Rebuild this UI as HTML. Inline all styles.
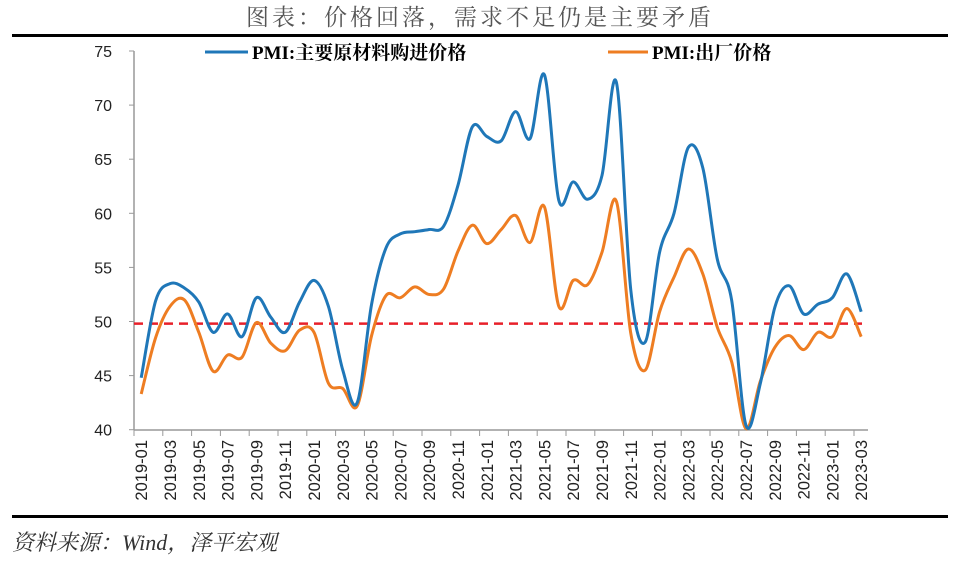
<!DOCTYPE html>
<html><head><meta charset="utf-8"><style>
body{margin:0;background:#fff;width:960px;height:558px;overflow:hidden}
</style></head><body>
<svg id="s" width="960" height="558" xmlns="http://www.w3.org/2000/svg" font-family="'Liberation Sans','Noto Serif CJK SC',sans-serif">
<text x="480" y="25" text-anchor="middle" font-size="23" fill="#555" font-family="'Noto Serif CJK SC','Noto Sans CJK SC',serif" letter-spacing="3">图表：价格回落，需求不足仍是主要矛盾</text>
<rect x="12" y="34" width="936" height="3" fill="#000"/>
<rect x="12" y="515" width="936" height="3" fill="#000"/>
<text x="12" y="550" font-size="22" fill="#333" font-style="italic" font-family="'Liberation Serif','Noto Serif CJK SC',serif">资料来源：Wind，泽平宏观</text>
<line x1="205" y1="52" x2="248" y2="52" stroke="#1f77b8" stroke-width="3"/>
<text x="252" y="59" font-size="19" font-weight="bold" font-family="'Liberation Serif','Noto Serif CJK SC',serif">PMI:主要原材料购进价格</text>
<line x1="608" y1="52" x2="648" y2="52" stroke="#ee7d22" stroke-width="3"/>
<text x="652" y="59" font-size="19" font-weight="bold" font-family="'Liberation Serif','Noto Serif CJK SC',serif">PMI:出厂价格</text>
<g id="ax"></g>
</svg>
<script>
const s=document.getElementById('ax');const NS='http://www.w3.org/2000/svg';
function el(t,a,txt){const e=document.createElementNS(NS,t);for(const k in a)e.setAttribute(k,a[k]);if(txt)e.textContent=txt;s.appendChild(e);return e;}
const Y=v=>51+(75-v)*10.82, X=i=>141.2+14.4*i;
el('line',{x1:134,y1:51,x2:134,y2:430,stroke:'#999','stroke-width':1.5});
el('line',{x1:134,y1:430,x2:868,y2:430,stroke:'#999','stroke-width':1.5});
for(let v=40;v<=75;v+=5){const y=Y(v);el('line',{x1:129,y1:y,x2:134,y2:y,stroke:'#999'});el('text',{x:112,y:y+6,'font-size':16,'text-anchor':'end',fill:'#222'},String(v));}
for(let i=0;i<=51;i++){const x=134+14.4*i;if(i%2==0)el('line',{x1:x,y1:430,x2:x,y2:436,stroke:'#999'});}
for(let i=0;i<51;i+=2){const y=2019+Math.floor(i/12),m=i%12+1;const x=X(i);el('text',{x:0,y:0,'font-size':16.5,'text-anchor':'end',fill:'#222',transform:`translate(${x+6},440) rotate(-90)`},y+'-'+(m<10?'0':'')+m);}
el('line',{x1:134,y1:Y(49.8),x2:862,y2:Y(49.8),stroke:'#e8202a','stroke-width':2.5,'stroke-dasharray':'9,6'});
const a=[44.8,51.9,53.5,53.1,51.8,49.0,50.7,48.6,52.2,50.4,49.0,51.8,53.8,51.4,45.5,42.5,51.6,56.8,58.1,58.3,58.5,58.8,62.6,68.0,67.1,66.7,69.4,66.9,72.8,61.2,62.9,61.3,63.5,72.1,52.9,48.1,56.4,60.0,66.1,64.2,55.8,52.0,40.4,44.3,51.3,53.3,50.7,51.6,52.2,54.4,50.9];
const b=[43.3,48.5,51.4,52.0,49.0,45.4,46.9,46.7,49.9,48.0,47.3,49.2,49.0,44.3,43.8,42.2,48.7,52.4,52.2,53.2,52.5,53.0,56.5,58.9,57.2,58.5,59.8,57.3,60.6,51.4,53.8,53.4,56.4,61.1,48.9,45.5,50.9,54.1,56.7,54.4,49.5,46.3,40.1,44.5,47.6,48.7,47.4,49.0,48.6,51.2,48.6];
function path(d){const p=d.map((v,i)=>[X(i),Y(v)]);let str=`M${p[0][0]},${p[0][1]}`;for(let i=0;i<p.length-1;i++){const p0=p[i-1]||p[i],p1=p[i],p2=p[i+1],p3=p[i+2]||p2;const t=0.5/3;str+=` C${p1[0]+(p2[0]-p0[0])*t},${p1[1]+(p2[1]-p0[1])*t} ${p2[0]-(p3[0]-p1[0])*t},${p2[1]-(p3[1]-p1[1])*t} ${p2[0]},${p2[1]}`;}return str;}
el('path',{d:path(b),fill:'none',stroke:'#ee7d22','stroke-width':3});
el('path',{d:path(a),fill:'none',stroke:'#1f77b8','stroke-width':3});
</script>
</body></html>
